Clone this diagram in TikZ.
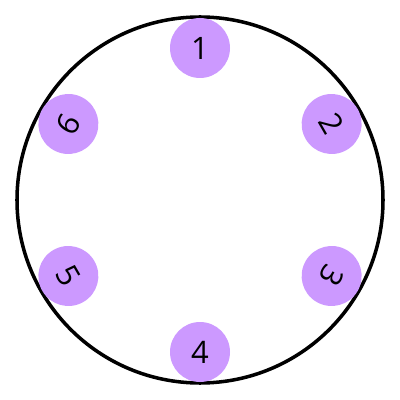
\documentclass[tikz,border=0pt]{standalone}
\usepackage{fontspec}
\setsansfont{Open Sans}
\usepackage{tikz}
\usetikzlibrary{positioning, calc}
\definecolor{dotpurple}{HTML}{CC99FF}

\begin{document}
\begin{tikzpicture}[
    ringline/.style={draw, line width=2.5pt, circle, minimum size=9.15cm, inner sep=0pt},
    seat/.style={circle, fill=dotpurple, minimum size=1.5cm, inner sep=0pt,
                 font=\sffamily\fontsize{22}{25}\selectfont},
]
    \useasboundingbox (-5,-5) rectangle (5,5);

    % Outer ring
    \node[ringline] (ring) at (0,0) {};

    % Numbered seats round the ring
    \foreach \n/\ang/\rot in {1/90/0, 2/30/-60, 3/-30/-120, 4/-90/0, 5/-150/-60, 6/150/60} {
        \node[seat, rotate=\rot] (seat\n) at ($(ring.center)+(\ang:3.8)$) {\n};
    }
\end{tikzpicture}
\end{document}
